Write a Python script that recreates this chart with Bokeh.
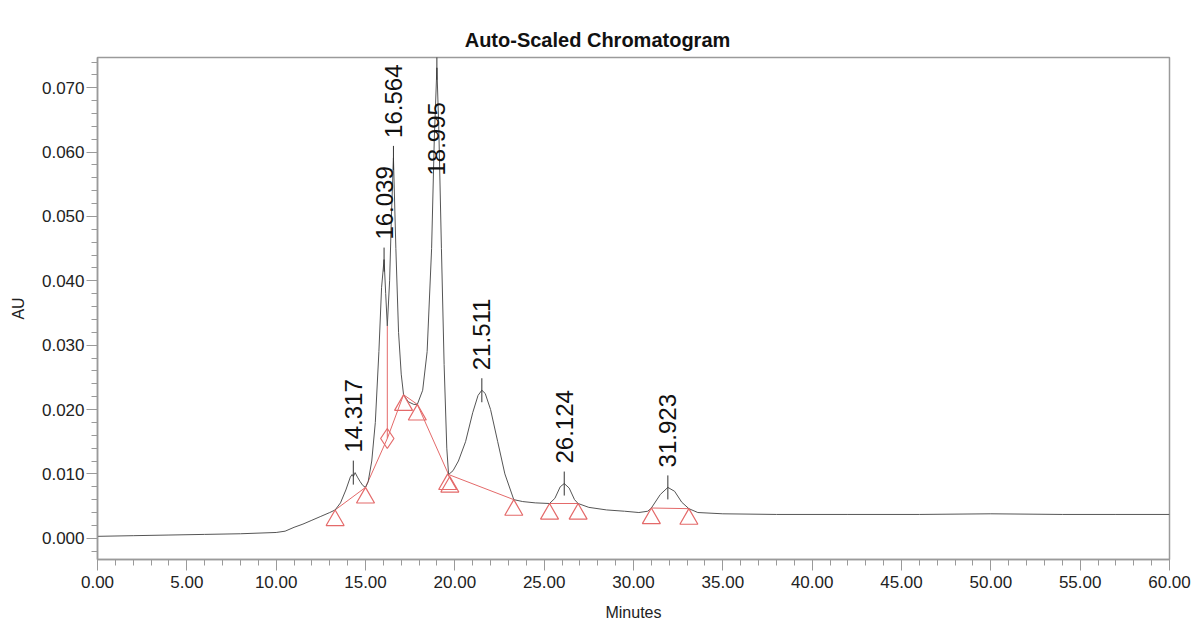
import math
from bokeh.plotting import figure
from bokeh.models import ColumnDataSource, NumeralTickFormatter, SingleIntervalTicker
from bokeh.core.properties import value
from bokeh.embed import file_html
from bokeh.resources import INLINE

# ---- data ----
time_min = [0.0, 2.0, 4.0, 6.0, 8.0, 10.0, 10.5, 11.0, 11.5, 12.0, 12.5, 13.0, 13.3,
            13.6, 13.9, 14.15, 14.25, 14.32, 14.42, 14.55, 14.7, 14.85, 15.0, 15.15,
            15.35, 15.55, 15.75, 15.9, 16.039, 16.13, 16.22, 16.35, 16.45, 16.564,
            16.7, 16.85, 17.0, 17.13, 17.4, 17.7, 17.9, 18.2, 18.45, 18.7, 18.85,
            18.995, 19.1, 19.25, 19.4, 19.55, 19.65, 19.9, 20.2, 20.6, 21.0, 21.3,
            21.511, 21.7, 22.0, 22.4, 22.8, 23.3, 23.8, 24.5, 25.3, 25.6, 25.9,
            26.124, 26.4, 26.7, 26.9, 27.5, 28.5, 29.5, 30.3, 30.8, 31.0, 31.5,
            31.923, 32.3, 32.7, 33.1, 33.6, 35.0, 38.0, 42.0, 46.0, 50.0, 54.0,
            57.0, 60.0]
au = [0.0003, 0.0004, 0.0005, 0.0006, 0.0007, 0.0009, 0.0011, 0.0017, 0.0022, 0.0028,
      0.0034, 0.0040, 0.0044, 0.0055, 0.0075, 0.0095, 0.0099, 0.0096, 0.0102, 0.0095,
      0.0088, 0.0082, 0.0079, 0.0088, 0.0120, 0.0180, 0.0290, 0.0390, 0.0433, 0.0380,
      0.0330, 0.0400, 0.0500, 0.0591, 0.0450, 0.0320, 0.0255, 0.0223, 0.0212, 0.0208,
      0.0208, 0.0230, 0.0290, 0.0450, 0.0620, 0.0731, 0.0640, 0.0450, 0.0270, 0.0140,
      0.0099, 0.0105, 0.0120, 0.0150, 0.0195, 0.0222, 0.0230, 0.0225, 0.0200, 0.0150,
      0.0100, 0.0060, 0.0057, 0.0055, 0.0054, 0.0062, 0.0080, 0.0085, 0.0078, 0.0060,
      0.0054, 0.0048, 0.0044, 0.0042, 0.0040, 0.0042, 0.0047, 0.0068, 0.0079, 0.0073,
      0.0056, 0.0046, 0.0040, 0.0038, 0.0037, 0.0037, 0.0037, 0.0038, 0.0037, 0.0037,
      0.0037]

peak_rt = [14.317, 16.039, 16.564, 18.995, 21.511, 26.124, 31.923]
peak_au = [0.0102, 0.0433, 0.0591, 0.0731, 0.0230, 0.0085, 0.0079]
peak_labels = ["14.317", "16.039", "16.564", "18.995", "21.511", "26.124", "31.923"]

baseline1_t = [13.3, 15.0, 16.22, 17.13, 17.9, 19.65, 23.3]
baseline1_au = [0.0044, 0.0079, 0.0155, 0.0223, 0.0208, 0.0099, 0.0060]
baseline2_t = [25.3, 26.9]
baseline2_au = [0.0054, 0.0054]
baseline3_t = [31.0, 33.1]
baseline3_au = [0.0047, 0.0046]

marker_t = [13.3, 15.0, 17.13, 17.9, 19.6, 19.72, 23.3, 25.3, 26.9, 31.0, 33.1]
marker_au = [0.0044, 0.0079, 0.0223, 0.0208, 0.0100, 0.0096, 0.0060, 0.0054, 0.0054, 0.0047, 0.0046]
drop_t = [16.22]
drop_low = [0.0155]
drop_high = [0.0330]

title_text = "Auto-Scaled Chromatogram"
x_label = "Minutes"
y_label = "AU"
x_ticks_step = 5
y_ticks_step = 0.01

# ---- layout ----
W, H = 1194, 624
B_LEFT, B_RIGHT, B_TOP, B_BOTTOM = 97, 25, 57, 65
X0, X1 = 0, 60
Y0, Y1 = -0.0033, 0.0747
px_per_au = (H - B_TOP - B_BOTTOM) / (Y1 - Y0)

FONT = "Liberation Sans"
RED = "#e46a6a"
GREY = "#9a9a9a"
TITLE_SIZE = 20

p = figure(width=W, height=H, x_range=(X0, X1), y_range=(Y0, Y1),
           output_backend="svg", toolbar_location=None,
           min_border_left=B_LEFT, min_border_right=B_RIGHT,
           min_border_top=B_TOP, min_border_bottom=B_BOTTOM,
           title=title_text)

# title centred on the whole image (left-aligned with an offset from the frame)
est_title_w = 13.28 * TITLE_SIZE
p.title.align = "left"
p.title.offset = W / 2 - est_title_w / 2 - B_LEFT
p.title.text_font = FONT
p.title.text_font_style = "bold"
p.title.text_font_size = f"{TITLE_SIZE}px"
p.title.text_color = "#111111"
p.title.standoff = 14

p.background_fill_color = "white"
p.border_fill_color = "white"
p.outline_line_color = GREY
p.outline_line_width = 1.5
p.xgrid.visible = False
p.ygrid.visible = False

for ax in (p.xaxis[0], p.yaxis[0]):
    ax.axis_line_color = GREY
    ax.axis_line_width = 1.5
    ax.major_tick_line_color = GREY
    ax.minor_tick_line_color = GREY
    ax.major_tick_in = 0
    ax.minor_tick_in = 0
    ax.major_tick_out = 11
    ax.minor_tick_out = 6
    ax.major_label_text_font = FONT
    ax.major_label_text_font_size = "17px"
    ax.major_label_text_color = "#222222"
    ax.axis_label_text_font = FONT
    ax.axis_label_text_font_size = "16px"
    ax.axis_label_text_font_style = "normal"
    ax.axis_label_text_color = "#222222"

p.xaxis.ticker = SingleIntervalTicker(interval=x_ticks_step, num_minor_ticks=5)
p.yaxis.ticker = SingleIntervalTicker(interval=y_ticks_step, num_minor_ticks=5)
p.xaxis.formatter = NumeralTickFormatter(format="0.00")
p.yaxis.formatter = NumeralTickFormatter(format="0.000")
p.xaxis.major_label_standoff = 5
p.yaxis.major_label_standoff = 2
p.xaxis.axis_label = x_label
p.yaxis.axis_label = y_label
p.xaxis.axis_label_standoff = 13
p.yaxis.axis_label_standoff = 12

# baselines (red)
for bt, ba in ((baseline1_t, baseline1_au), (baseline2_t, baseline2_au), (baseline3_t, baseline3_au)):
    p.line(bt, ba, line_color=RED, line_width=1)
p.segment(x0=drop_t, y0=drop_low, x1=drop_t, y1=drop_high, line_color=RED, line_width=1)

# trace
p.line(time_min, au, line_color="#555555", line_width=1)

# baseline markers: triangle apex at the point
tri_size = 18
apex_px = (tri_size / 2) * math.sqrt(3) * 2 / 3
p.scatter(marker_t, [a - apex_px / px_per_au for a in marker_au],
          marker="triangle", size=tri_size, fill_color=None, line_color=RED, line_width=1.2)
p.scatter(drop_t, drop_low, marker="diamond", size=20, fill_color=None,
          line_color=RED, line_width=1.2)

# peak ticks
tick_half = 12 / px_per_au
p.segment(x0=peak_rt, y0=[a - tick_half for a in peak_au], x1=peak_rt,
          y1=[a + tick_half for a in peak_au], line_color="#333333", line_width=1)

# peak labels
label_gap = 20 / px_per_au
label_len = 78 / px_per_au
top_limit = Y1 - 40 / px_per_au
label_y = []
for a in peak_au:
    y = a + label_gap
    if y + label_len > Y1:
        y = top_limit - label_len
    label_y.append(y)
src = ColumnDataSource(dict(x=peak_rt, y=label_y, t=peak_labels))
p.text(x="x", y="y", text="t", source=src, angle=math.pi / 2, text_align="left",
       text_baseline="middle", text_font=value(FONT), text_font_size="24px",
       text_color="#111111")

open("out.html", "w").write(file_html(p, INLINE))
